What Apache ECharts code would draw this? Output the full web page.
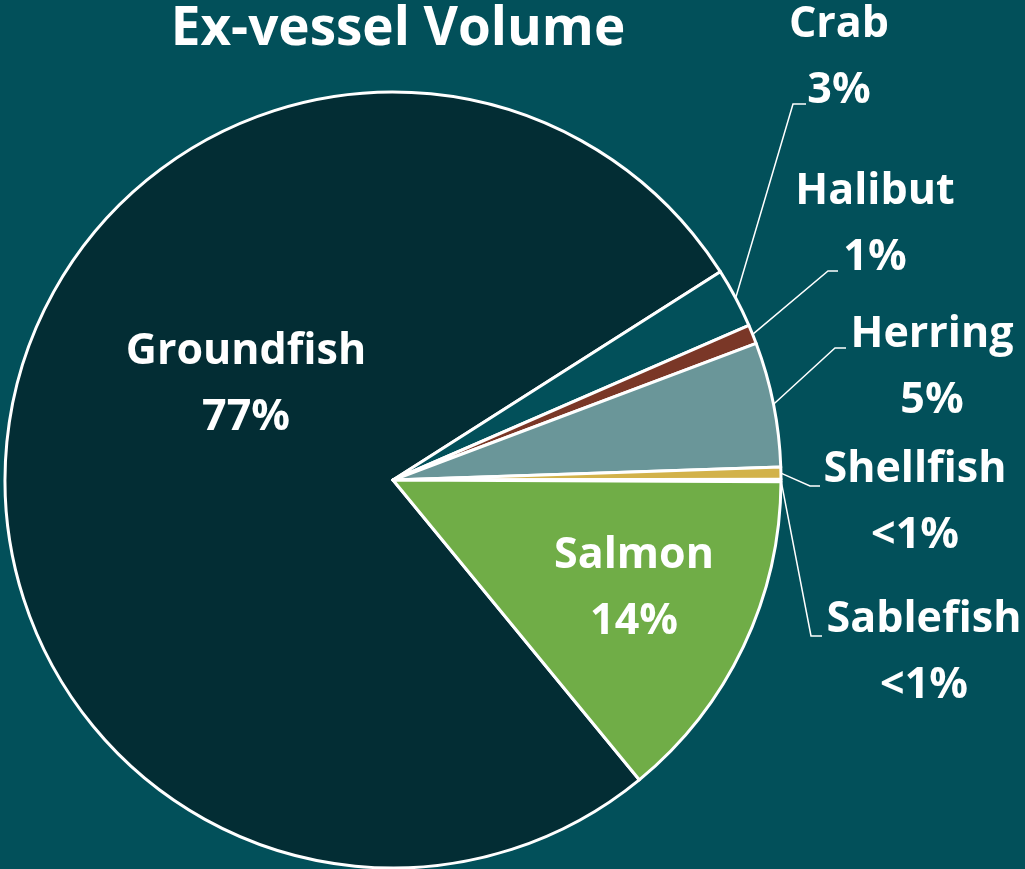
<!DOCTYPE html>
<html>
<head>
<meta charset="utf-8">
<script src="https://cdn.jsdelivr.net/npm/echarts@6/dist/echarts.min.js"></script>
<style>
  html, body { margin: 0; padding: 0; background: #02505a; }
  #chart { width: 1025px; height: 869px; }
</style>
</head>
<body>
<div id="chart"></div>
<script>
// data
var categories = ['Groundfish', 'Crab', 'Halibut', 'Herring', 'Shellfish', 'Sablefish', 'Salmon'];
var shares = [77, 2.5, 0.8, 5.2, 0.5, 0.1, 14];
var shareLabels = ['77%', '3%', '1%', '5%', '<1%', '<1%', '14%'];
var colors = ['#032d34', '#02505a', '#7a3727', '#6a9699', '#d2b24a', '#f2f2f2', '#70ad47'];

// where the label text sits (centre x, top y) and the elbow of its leader line
var labelSpots = [
  { x: 246, y: 319 },
  { x: 839, y: -8, elbow: [[793, 104], [806, 104]] },
  { x: 875, y: 159, elbow: [[828, 271], [838, 271]] },
  { x: 932, y: 302, elbow: [[835, 348], [846, 348]] },
  { x: 915, y: 437, elbow: [[810, 486], [820, 486]] },
  { x: 924, y: 587, elbow: [[811, 636], [822, 636]] },
  { x: 634, y: 523 }
];

var chart = echarts.init(document.getElementById('chart'));

var seriesData = categories.map(function (name, i) {
  var inside = !labelSpots[i].elbow;
  return {
    name: name,
    value: shares[i],
    itemStyle: { color: colors[i] },
    label: { position: inside ? 'inside' : 'outside' },
    labelLine: { show: !inside }
  };
});

chart.setOption({
  backgroundColor: '#02505a',
  title: {
    text: 'Ex-vessel Volume',
    left: 393,
    top: -2,
    textAlign: 'center',
    textStyle: {
      color: '#ffffff',
      fontFamily: 'Open Sans',
      fontWeight: 'bold',
      fontSize: 53
    }
  },
  series: [{
    type: 'pie',
    center: [393, 480],
    radius: 388,
    startAngle: -50.6,
    clockwise: true,
    avoidLabelOverlap: false,
    animation: false,
    itemStyle: { borderColor: '#ffffff', borderWidth: 3 },
    label: {
      color: '#ffffff',
      fontFamily: 'Open Sans',
      fontWeight: 'bold',
      fontSize: 43,
      lineHeight: 66,
      align: 'center',
      formatter: function (p) {
        return p.name + '\n' + shareLabels[p.dataIndex];
      }
    },
    labelLine: {
      lineStyle: { color: '#ffffff', width: 1.5 },
      length: 10,
      length2: 10
    },
    labelLayout: function (p) {
      var spot = labelSpots[p.dataIndex];
      var out = {
        x: spot.x,
        y: spot.y,
        align: 'center',
        verticalAlign: 'top'
      };
      if (spot.elbow && p.labelLinePoints) {
        out.labelLinePoints = [p.labelLinePoints[0]].concat(spot.elbow);
      }
      return out;
    },
    data: seriesData
  }]
});
</script>
</body>
</html>
